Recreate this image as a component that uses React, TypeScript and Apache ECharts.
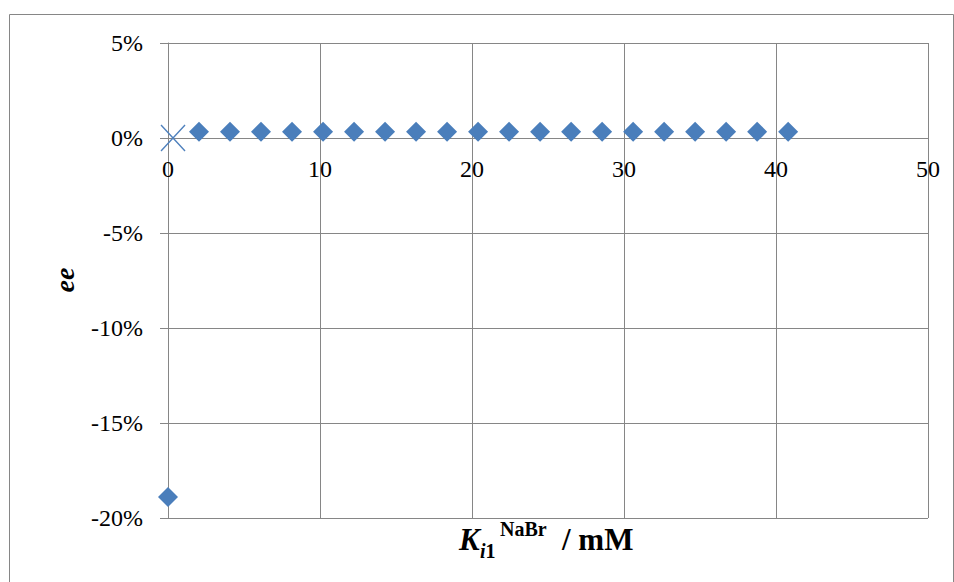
import React, { useEffect, useRef } from "react";
import * as echarts from "echarts";

const xValues = [0, 2.04, 4.08, 6.12, 8.16, 10.2, 12.24, 14.28, 16.32, 18.36, 20.4, 22.44, 24.48, 26.52, 28.56, 30.6, 32.64, 34.68, 36.72, 38.76, 40.8];
const eeValues = [-18.9, 0.33, 0.33, 0.33, 0.33, 0.33, 0.33, 0.33, 0.33, 0.33, 0.33, 0.33, 0.33, 0.33, 0.33, 0.33, 0.33, 0.33, 0.33, 0.33, 0.33];
const crossX = [0.33];
const crossY = [0];

const FONT = "Liberation Serif";
const GRID = "#868686";
const BLUE = "#4A7EBB";

export default function App() {
  const ref = useRef<HTMLDivElement>(null);
  useEffect(() => {
    if (!ref.current) return;
    const chart = echarts.init(ref.current, null, { renderer: "svg" });
    chart.setOption({
      animation: false,
      backgroundColor: "#ffffff",
      grid: { left: 168, right: 26, top: 43, bottom: 64 },
      xAxis: {
        type: "value",
        min: 0,
        max: 50,
        interval: 10,
        offset: -380,
        axisLine: { show: true, onZero: false, lineStyle: { color: GRID, width: 1 } },
        axisTick: { show: false },
        splitLine: { show: true, lineStyle: { color: GRID, width: 1 } },
        axisLabel: { color: "#000", fontFamily: FONT, fontSize: 24, margin: 19 },
      },
      yAxis: {
        type: "value",
        min: -20,
        max: 5,
        interval: 5,
        axisLine: { show: true, onZero: false, lineStyle: { color: GRID, width: 1 } },
        axisTick: { show: true, length: 8, lineStyle: { color: GRID } },
        splitLine: { show: true, lineStyle: { color: GRID, width: 1 } },
        axisLabel: {
          color: "#000",
          fontFamily: FONT,
          fontSize: 24,
          margin: 25,
          formatter: (v: number) => `${v}%`,
        },
      },
      series: [
        {
          type: "scatter",
          data: xValues.map((x, i) => [x, eeValues[i]]),
          symbol: "diamond",
          symbolSize: 20,
          itemStyle: { color: BLUE, opacity: 1 },
        },
        {
          type: "scatter",
          data: crossX.map((x, i) => [x, crossY[i]]),
          symbol: "path://M0,0L10,10M10,0L0,10",
          symbolSize: [24, 26],
          itemStyle: { color: "none", borderColor: "#4F81BD", borderWidth: 1.5, opacity: 1 },
        },
      ],
      graphic: [
        {
          type: "rect",
          shape: { x: 9.5, y: 14.5, width: 944, height: 600 },
          style: { fill: "none", stroke: GRID, lineWidth: 1 },
          silent: true,
          z: -1,
        },
        {
          type: "text",
          x: 64,
          y: 280,
          rotation: Math.PI / 2,
          style: {
            text: "ee",
            font: `italic bold 28px "${FONT}"`,
            fill: "#000",
            align: "center",
            verticalAlign: "middle",
          },
        },
        {
          type: "text",
          x: 459,
          y: 539,
          style: {
            text: "K",
            font: `italic bold 31px "${FONT}"`,
            fill: "#000",
            align: "left",
            verticalAlign: "middle",
          },
        },
        {
          type: "text",
          x: 480,
          y: 551,
          style: {
            text: "{i|i}{one|1}",
            fill: "#000",
            align: "left",
            verticalAlign: "middle",
            rich: {
              i: { font: `italic bold 20px "${FONT}"`, fill: "#000" },
              one: { font: `bold 20px "${FONT}"`, fill: "#000" },
            },
          },
        },
        {
          type: "text",
          x: 500,
          y: 529,
          style: {
            text: "NaBr",
            font: `bold 20px "${FONT}"`,
            fill: "#000",
            align: "left",
            verticalAlign: "middle",
          },
        },
        {
          type: "text",
          x: 562,
          y: 539,
          style: {
            text: "/ mM",
            font: `bold 31px "${FONT}"`,
            fill: "#000",
            align: "left",
            verticalAlign: "middle",
          },
        },
      ],
    });
    return () => chart.dispose();
  }, []);
  return (
    <div
      ref={ref}
      style={{ position: "fixed", left: 0, top: 0, width: 954, height: 582 }}
    />
  );
}
